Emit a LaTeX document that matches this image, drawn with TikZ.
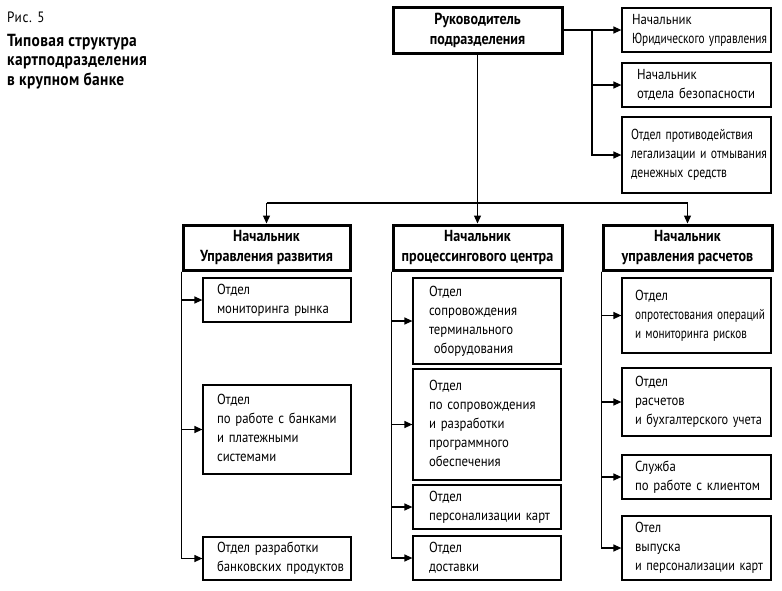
\documentclass[tikz,border=0pt]{standalone}
\usepackage{fontspec}
\usepackage{graphicx}
\setmainfont{PT Sans}[FakeStretch=0.88]
\usetikzlibrary{arrows.meta}
\newcommand{\boxlines}[1]{\begin{tabular}{@{}l@{}}#1\end{tabular}}
\newcommand{\fitw}[2]{\resizebox{#1}{\height}{#2}}
\tikzset{
  thin box/.style={draw, line width=1.2pt, inner sep=0pt, font=\fontsize{14.5}{19}\selectfont, align=left},
  thick box/.style={draw, line width=3pt, inner sep=0pt, font=\bfseries\fontsize{16}{20}\selectfont, align=center},
  conn/.style={line width=1.2pt},
  arr/.style={conn, -{Triangle[length=8pt,width=7pt]}},
  title/.style={inner sep=0pt, align=left}
}
\begin{document}
\begin{tikzpicture}[x=1pt,y=-1pt]
\useasboundingbox (0,0) rectangle (782,590);
% title
\node[title, anchor=base west, font=\fontsize{15}{19}\selectfont\addfontfeature{LetterSpace=4}] (fig) at (7,22) {Рис. 5};
\node[title, anchor=north west, font=\bfseries\fontsize{17.5}{19.5}\selectfont\addfontfeature{LetterSpace=2}] (ttl) at (7,34) {Типовая структура\\картподразделения\\в крупном банке};
% top
\node[thick box, minimum width=169pt, minimum height=46pt] (ruk) at (477.5,30) {Руководитель\\подразделения};
\node[thin box, minimum width=149pt, minimum height=44pt, text width=129pt] (r1) at (696.5,30) {\boxlines{Начальник\\\fitw{135pt}{Юридического управления}}};
\node[thin box, minimum width=149pt, minimum height=44pt, text width=119pt] (r2) at (696.5,85) {\boxlines{Начальник\\отдела безопасности}};
\node[thin box, minimum width=149pt, minimum height=76pt, text width=131pt] (r3) at (696.5,155) {\boxlines{\fitw{122pt}{Отдел противодействия}\\\fitw{136pt}{легализации и отмывания}\\\fitw{96pt}{денежных средств}}};
\coordinate (j1) at (592,30);
\draw[arr] (ruk.east) -- (r1.west);
\draw[arr] (j1) |- (r2.west);
\draw[arr] (j1) |- (r3.west);
% level 2
\node[thick box, minimum width=167pt, minimum height=45pt] (L) at (266.5,247.5) {Начальник\\Управления развития};
\node[thick box, minimum width=169pt, minimum height=45pt] (M) at (477.5,247.5) {Начальник\\процессингового центра};
\node[thick box, minimum width=169pt, minimum height=45pt] (R) at (687.5,247.5) {Начальник\\управления расчетов};
\coordinate (hL) at (266.5,203);
\coordinate (hR) at (687.5,203);
\draw[arr] (ruk.south) -- (M.north);
\draw[conn] (hL) -- (hR);
\draw[arr] (hL) -- (L.north);
\draw[arr] (hR) -- (R.north);
% left column
\node[thin box, minimum width=148pt, minimum height=44pt, text width=120pt] (la) at (277,300) {\boxlines{Отдел\\мониторинга рынка}};
\node[thin box, minimum width=148pt, minimum height=89pt, text width=120pt] (lb) at (277,429.5) {\boxlines{Отдел\\по работе с банками\\и платежными\\системами}};
\node[thin box, minimum width=148pt, minimum height=43pt, text width=120pt] (lc) at (277,558.5) {\boxlines{Отдел разработки\\банковских продуктов}};
\draw[arr] (L.south west) |- (la.west);
\draw[arr] (L.south west) |- (lb.west);
\draw[arr] (L.south west) |- (lc.west);
% middle column
\node[thin box, minimum width=148pt, minimum height=86pt, text width=116pt] (ma) at (487,321) {\boxlines{Отдел\\сопровождения\\терминального\\\ оборудования}};
\node[thin box, minimum width=148pt, minimum height=111pt, text width=116pt] (mb) at (487,424.5) {\boxlines{Отдел\\по сопровождения\\и разработки\\программного\\обеспечения}};
\node[thin box, minimum width=148pt, minimum height=44pt, text width=116pt] (mc) at (487,507) {\boxlines{Отдел\\персонализации карт}};
\node[thin box, minimum width=148pt, minimum height=44pt, text width=116pt] (md) at (487,558) {\boxlines{Отдел\\доставки}};
\draw[arr] (M.south west) |- (ma.west);
\draw[arr] (M.south west) |- (mb.west);
\draw[arr] (M.south west) |- (mc.west);
\draw[arr] (M.south west) |- (md.west);
% right column
\node[thin box, minimum width=149pt, minimum height=75pt, text width=123pt] (ra) at (696.5,315.5) {\boxlines{Отдел\\\fitw{130pt}{опротестования операций}\\\fitw{112pt}{и мониторинга рисков}}};
\node[thin box, minimum width=149pt, minimum height=68pt, text width=123pt] (rb) at (696.5,402) {\boxlines{Отдел\\расчетов\\\fitw{127pt}{и бухгалтерского учета}}};
\node[thin box, minimum width=149pt, minimum height=44pt, text width=123pt] (rc) at (696.5,477) {\boxlines{Служба\\по работе с клиентом}};
\node[thin box, minimum width=149pt, minimum height=64pt, text width=123pt] (rd) at (696.5,548) {\boxlines{Отел\\выпуска\\\fitw{128pt}{и персонализации карт}}};
\draw[arr] (R.south west) |- (ra.west);
\draw[arr] (R.south west) |- (rb.west);
\draw[arr] (R.south west) |- (rc.west);
\draw[arr] (R.south west) |- (rd.west);
\end{tikzpicture}
\end{document}
